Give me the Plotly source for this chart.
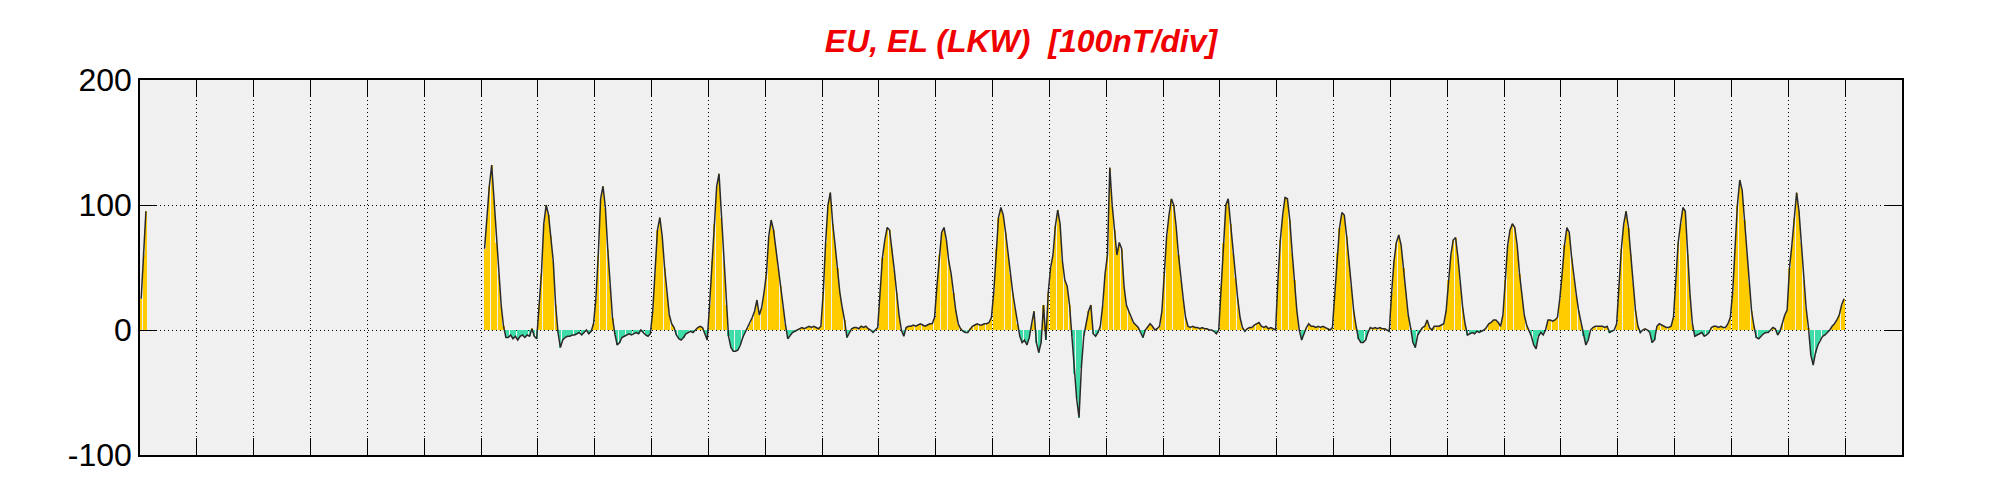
import plotly.graph_objects as go

# hourly values [nT], one list per day of the month (day index = days since start of month)
day00 = [25, 60, 95]
day06 = [None, 65, 90, 115, 132, 105, 70, 45, 20, 3, -6, -6, -4, -7, -5, -8, -5, -4, -6, -4, -5, 1, -5, -7]
day07 = [20, 45, 85, 100, 92, 75, 55, 20, -2, -14, -8, -6, -5, -5, -4, -4, -3, -2, -4, -2, 0, -3, -1, 5]
day08 = [25, 60, 105, 115, 98, 65, 35, 10, -3, -12, -10, -6, -5, -4, -3, -4, -3, -2, -3, 0, -2, -4, -5, -3]
day09 = [15, 45, 80, 90, 75, 50, 30, 12, 5, 2, -4, -7, -8, -6, -3, -2, -1, -2, 0, 2, 3, 2, -3, -8]
day10 = [20, 55, 85, 115, 125, 90, 55, 20, -5, -14, -17, -17, -16, -12, -6, -2, 2, 5, 10, 15, 24, 12, 18, 30]
day11 = [45, 75, 88, 80, 65, 50, 35, 18, 5, -7, -4, -2, -1, 0, 1, 2, 1, 2, 3, 2, 3, 2, 1, 3]
day12 = [30, 70, 100, 110, 85, 68, 50, 30, 18, 8, -6, -2, 1, 2, 2, 1, 3, 2, 3, 1, 0, -2, 0, 2]
day13 = [30, 58, 72, 82, 80, 65, 48, 30, 12, 0, -5, 2, 3, 3, 4, 3, 4, 5, 4, 3, 4, 5, 5, 10]
day14 = [35, 60, 78, 82, 72, 55, 45, 30, 15, 5, 1, -1, -2, -2, 1, 3, 4, 5, 4, 4, 5, 5, 6, 10]
day15 = [30, 65, 90, 98, 92, 78, 62, 45, 30, 18, 5, -5, -10, -8, -12, -6, 5, 15, -10, -18, -10, 20, -8, 30]
day16 = [50, 60, 83, 96, 85, 55, 40, 35, 20, -5, -35, -55, -70, -30, -5, 5, 15, 20, -3, -5, -2, 3, 20, 45]
day17 = [60, 130, 100, 80, 60, 70, 65, 35, 20, 15, 10, 6, 4, 2, -2, -6, 0, 3, 5, 3, 0, 1, 3, 15]
day18 = [45, 75, 92, 105, 100, 83, 60, 40, 25, 10, 3, 2, 3, 2, 2, 1, 2, 1, 1, 0, 0, -1, -3, 0]
day19 = [35, 70, 100, 105, 85, 62, 42, 25, 10, 2, -1, 1, 2, 2, 4, 5, 6, 3, 2, 3, 1, 2, 1, 0]
day20 = [40, 72, 92, 106, 105, 88, 62, 40, 15, 0, -8, -3, 2, 5, 3, 3, 2, 3, 2, 3, 2, 1, 0, 2]
day21 = [30, 62, 82, 94, 92, 75, 55, 35, 15, 3, -7, -10, -10, -8, -2, 2, 1, 2, 1, 2, 1, 1, 0, -1]
day22 = [30, 55, 70, 76, 68, 50, 30, 12, 2, -10, -14, -4, -1, 2, 3, 8, 2, 0, 3, 3, 3, 4, 5, 15]
day23 = [40, 60, 72, 74, 58, 38, 18, 5, -4, -3, -2, -3, -1, -2, -1, 0, 2, 5, 6, 8, 8, 6, 3, 12]
day24 = [40, 68, 80, 85, 82, 68, 45, 28, 12, 4, 0, -5, -12, -15, -5, -2, -4, 0, 8, 8, 7, 8, 10, 25]
day25 = [45, 68, 82, 78, 58, 42, 28, 15, 5, -5, -12, -8, 0, 2, 3, 3, 3, 3, 2, 3, -2, -1, 0, 5]
day26 = [35, 65, 85, 95, 82, 60, 38, 15, 3, -2, 0, 1, 0, -2, -10, -8, 3, 5, 4, 3, 2, 2, 3, 10]
day27 = [40, 70, 85, 98, 95, 60, 28, 5, -5, -4, -3, -2, -5, -4, -2, 2, 3, 3, 2, 3, 2, 2, 5, 10]
day28 = [30, 65, 100, 120, 112, 88, 62, 38, 15, 3, -6, -7, -5, -3, -2, -2, 0, 2, 1, -4, -1, 5, 12, 16]
day29 = [50, 68, 90, 110, 95, 70, 40, 18, 2, -20, -28, -18, -12, -8, -5, -4, -2, 0, 3, 5, 8, 12, 20, 25]

y_ticks = [-100, 0, 100, 200]
y_tick_labels = ["-100", "0", "100", "200"]

segments = [
    (0, day00), (6, day06), (7, day07), (8, day08), (9, day09), (10, day10),
    (11, day11), (12, day12), (13, day13), (14, day14), (15, day15), (16, day16),
    (17, day17), (18, day18), (19, day19), (20, day20), (21, day21), (22, day22),
    (23, day23), (24, day24), (25, day25), (26, day26), (27, day27), (28, day28),
    (29, day29),
]

x, y = [], []
for start, vals in segments:
    for h, v in enumerate(vals):
        x.append(start + (h + 0.5) / 24)
        y.append(v)
    if start == 0:
        # data gap
        x.append(start + len(vals) / 24)
        y.append(None)

colors = ["#FFCC00" if (v is not None and v >= 0) else "#3EDCA8" for v in y]

fig = go.Figure()
fig.add_trace(go.Bar(
    x=x, y=y, width=0.88 / 24,
    marker=dict(color=colors, line=dict(width=0)),
    showlegend=False, hoverinfo="skip",
))
fig.add_trace(go.Scatter(
    x=x, y=y, mode="lines",
    line=dict(color="#2A2A2A", width=1.5),
    connectgaps=False, showlegend=False,
))

# page body has an 8px margin, so the figure is a bit smaller than the window
fig.update_layout(
    width=1985, height=484,
    margin=dict(l=132, r=91, t=72, b=37),
    paper_bgcolor="white",
    plot_bgcolor="#F0F0F0",
    title=dict(
        text="EU, EL (LKW) \u00a0[100nT/div]",
        x=0.5, xref="paper", xanchor="center",
        y=1 - 33 / 484, yref="container", yanchor="middle",
        font=dict(family="Liberation Sans", size=32, color="#F00000",
                  weight="bold", style="italic"),
    ),
    bargap=0,
)

fig.update_xaxes(
    range=[0, 31], tick0=0, dtick=1, showticklabels=False,
    ticks="inside", ticklen=17, tickwidth=1, tickcolor="black",
    showgrid=True, gridcolor="black", gridwidth=1, griddash="1px,3px",
    showline=True, linecolor="black", linewidth=1.5, mirror="allticks",
    zeroline=False,
)
fig.update_yaxes(
    range=[-100, 200], tickmode="array", tickvals=y_ticks, ticktext=y_tick_labels,
    tickfont=dict(family="Liberation Sans", size=32, color="black"),
    ticks="inside", ticklen=17, tickwidth=1, tickcolor="black",
    showgrid=True, gridcolor="black", gridwidth=1, griddash="1px,3px",
    showline=True, linecolor="black", linewidth=1.5, mirror="allticks",
    zeroline=False,
)

fig.write_html("out.html")
